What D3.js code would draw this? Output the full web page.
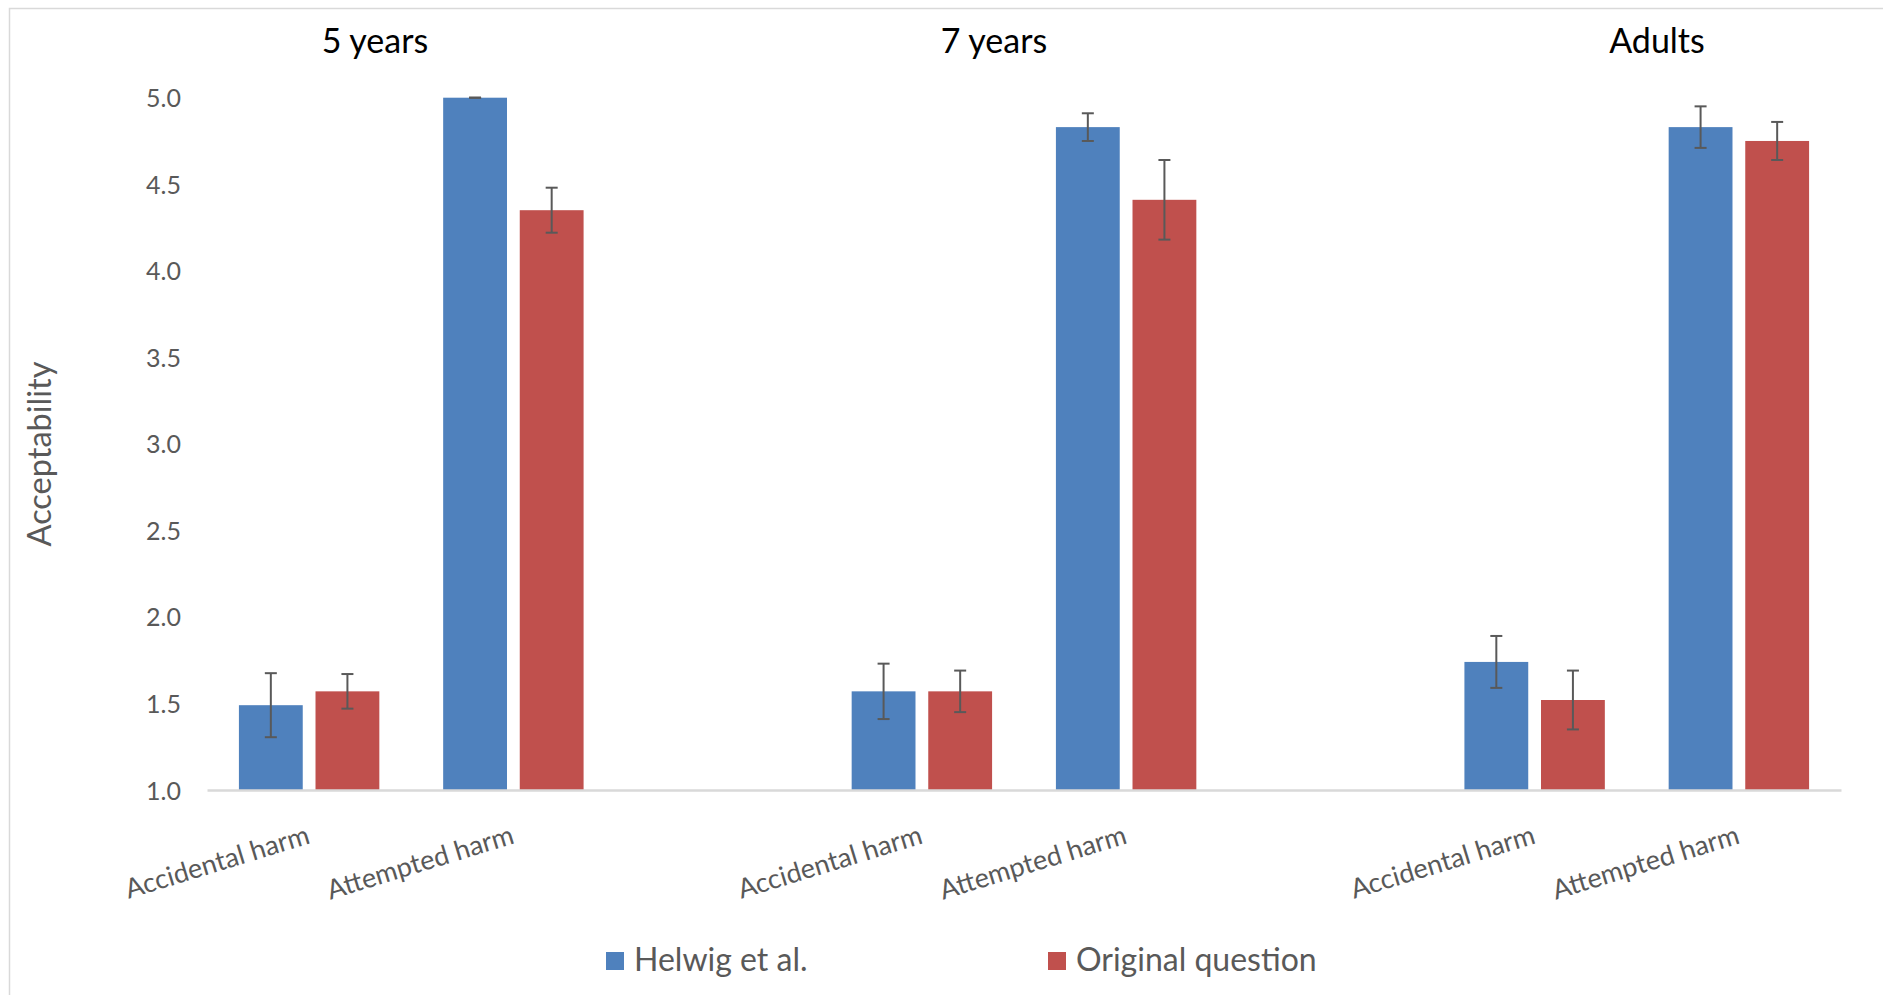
<!DOCTYPE html>
<html>
<head>
<meta charset="utf-8">
<script src="https://cdn.jsdelivr.net/npm/d3@7"></script>
<style>
  html, body { margin: 0; padding: 0; background: #fff; }
  svg { display: block; }
</style>
</head>
<body>
<script>
// ---- Data ----
const groups = ["5 years", "7 years", "Adults"];
const categories = ["Accidental harm", "Attempted harm"];
const seriesNames = ["Helwig et al.", "Original question"];
const helwigValues = [1.49, 5.00, 1.57, 4.83, 1.74, 4.83];
const helwigErrors = [0.185, 0.00, 0.16, 0.08, 0.15, 0.12];
const originalValues = [1.57, 4.35, 1.57, 4.41, 1.52, 4.75];
const originalErrors = [0.10, 0.13, 0.12, 0.23, 0.17, 0.11];
const yTickValues = [1.0, 1.5, 2.0, 2.5, 3.0, 3.5, 4.0, 4.5, 5.0];
const yLabel = "Acceptability";
const seriesColors = ["#4F81BD", "#C0504D"];

// ---- Layout ----
const W = 1883, H = 995;
const plot = { left: 207, right: 1841, top: 97.7, bottom: 790 };
const font = "Lato, 'Open Sans', sans-serif";
const grey = "#595959";

const svg = d3.select("body").append("svg").attr("width", W).attr("height", H);
svg.append("rect").attr("width", W).attr("height", H).attr("fill", "#fff");
svg.append("rect").attr("x", 9.5).attr("y", 8.5).attr("width", W + 10).attr("height", H + 10)
  .attr("fill", "none").attr("stroke", "#D9D9D9").attr("stroke-width", 1.5);

// slots: categories per group, blank slot between groups
const slots = [];
groups.forEach((g, gi) => {
  categories.forEach(c => slots.push(g + "|" + c));
  if (gi < groups.length - 1) slots.push("blank" + gi);
});

const rows = [];
groups.forEach((g, gi) => categories.forEach((c, ci) => {
  const i = gi * categories.length + ci;
  rows.push({ slot: g + "|" + c, series: seriesNames[0], value: helwigValues[i], err: helwigErrors[i] });
  rows.push({ slot: g + "|" + c, series: seriesNames[1], value: originalValues[i], err: originalErrors[i] });
}));

const x0 = d3.scaleBand().domain(slots).range([plot.left, plot.right]).padding(0);
const x1 = d3.scaleBand().domain(seriesNames).range([0, x0.bandwidth()])
  .paddingInner(1 / 6).paddingOuter(5 / 12);
const y = d3.scaleLinear().domain([1, 5]).range([plot.bottom, plot.top]);
const color = d3.scaleOrdinal().domain(seriesNames).range(seriesColors);

// Y axis (labels only)
const yAxis = svg.append("g").attr("transform", `translate(${plot.left - 26},0)`)
  .call(d3.axisLeft(y).tickValues(yTickValues).tickFormat(d3.format(".1f")).tickSize(0).tickPadding(0));
yAxis.select(".domain").remove();
yAxis.selectAll("text").attr("font-family", font).attr("font-size", 25).attr("fill", grey)
  .attr("dy", "0.36em");

// Bars
svg.append("g").selectAll("rect").data(rows).join("rect")
  .attr("x", d => x0(d.slot) + x1(d.series))
  .attr("y", d => y(d.value))
  .attr("width", x1.bandwidth())
  .attr("height", d => y(1) - y(d.value))
  .attr("fill", d => color(d.series));

// Error bars
const eb = svg.append("g").attr("stroke", grey).attr("stroke-width", 2).attr("fill", "none");
const cx = d => x0(d.slot) + x1(d.series) + x1.bandwidth() / 2;
eb.selectAll("line.v").data(rows).join("line").attr("class", "v")
  .attr("x1", cx).attr("x2", cx)
  .attr("y1", d => y(d.value + d.err)).attr("y2", d => y(d.value - d.err));
eb.selectAll("line.t").data(rows).join("line").attr("class", "t")
  .attr("x1", d => cx(d) - 6).attr("x2", d => cx(d) + 6)
  .attr("y1", d => y(d.value + d.err)).attr("y2", d => y(d.value + d.err));
eb.selectAll("line.b").data(rows).join("line").attr("class", "b")
  .attr("x1", d => cx(d) - 6).attr("x2", d => cx(d) + 6)
  .attr("y1", d => y(d.value - d.err)).attr("y2", d => y(d.value - d.err));

// X axis
const xAxis = svg.append("g").attr("transform", `translate(0,${plot.bottom})`)
  .call(d3.axisBottom(x0).tickSize(0).tickSizeOuter(0)
    .tickFormat(d => d.startsWith("blank") ? "" : d.split("|")[1]));
xAxis.select(".domain").attr("stroke", "#D9D9D9").attr("stroke-width", 2.5);
xAxis.selectAll("text").attr("font-family", font).attr("font-size", 27).attr("fill", grey)
  .attr("text-anchor", "end").attr("y", 0).attr("dy", 0)
  .attr("transform", "translate(2,53) rotate(-17)");

// Group titles
const titleX = [375, 994, 1657];
svg.append("g").selectAll("text").data(groups).join("text")
  .attr("x", (d, i) => titleX[i]).attr("y", 53)
  .attr("text-anchor", "middle").attr("font-family", font).attr("font-size", 34)
  .attr("fill", "#000").text(d => d);

// Y label
svg.append("text").attr("transform", "translate(51,454) rotate(-90)")
  .attr("text-anchor", "middle").attr("font-family", font).attr("font-size", 32.5)
  .attr("fill", grey).text(yLabel);

// Legend
const legendX = [606, 1048];
const lg = svg.append("g").selectAll("g").data(seriesNames).join("g")
  .attr("transform", (d, i) => `translate(${legendX[i]},952)`);
lg.append("rect").attr("width", 18).attr("height", 18).attr("fill", d => color(d));
lg.append("text").attr("x", 28).attr("y", 19).attr("font-family", font).attr("font-size", 32)
  .attr("fill", grey).text(d => d);
</script>
</body>
</html>
